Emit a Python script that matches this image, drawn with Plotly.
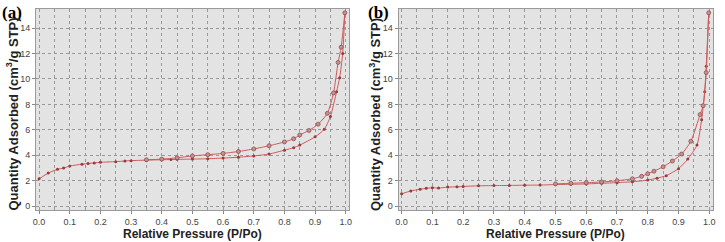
import plotly.graph_objects as go
from plotly.subplots import make_subplots

# Panel (a)
a_ads_x = [0.0, 0.03, 0.06, 0.08, 0.10, 0.14, 0.16, 0.18, 0.20, 0.25, 0.28, 0.30, 0.35, 0.40, 0.43, 0.45,
           0.50, 0.55, 0.60, 0.65, 0.70, 0.75, 0.80, 0.83, 0.85, 0.90, 0.93, 0.95, 0.97, 0.98, 0.99, 0.997]
a_ads_y = [2.15, 2.6, 2.9, 3.0, 3.15, 3.3, 3.35, 3.4, 3.45, 3.5, 3.55, 3.58, 3.62, 3.65, 3.67, 3.68,
           3.7, 3.73, 3.78, 3.85, 3.95, 4.1, 4.4, 4.6, 4.8, 5.45, 6.05, 7.05, 9.0, 10.1, 12.0, 15.2]
a_des_x = [0.997, 0.985, 0.975, 0.96, 0.94, 0.91, 0.88, 0.85, 0.83, 0.80, 0.75, 0.70, 0.65, 0.60,
           0.55, 0.50, 0.45, 0.40, 0.35]
a_des_y = [15.2, 12.5, 11.3, 8.9, 7.3, 6.45, 5.95, 5.6, 5.3, 5.05, 4.75, 4.5, 4.3, 4.15,
           4.05, 3.95, 3.8, 3.7, 3.65]

# Panel (b)
b_ads_x = [0.0, 0.03, 0.06, 0.08, 0.10, 0.12, 0.15, 0.18, 0.20, 0.25, 0.30, 0.35, 0.40, 0.45, 0.50,
           0.55, 0.60, 0.65, 0.70, 0.75, 0.80, 0.83, 0.86, 0.90, 0.93, 0.96, 0.975, 0.985, 0.99, 0.998]
b_ads_y = [0.97, 1.2, 1.33, 1.4, 1.45, 1.42, 1.5, 1.52, 1.55, 1.6, 1.62, 1.63, 1.65, 1.66, 1.7,
           1.72, 1.75, 1.8, 1.85, 1.92, 2.05, 2.2, 2.4, 2.95, 3.7, 4.8, 6.8, 9.0, 11.0, 15.2]
b_des_x = [0.998, 0.99, 0.98, 0.97, 0.94, 0.91, 0.88, 0.85, 0.82, 0.80, 0.78, 0.75, 0.70, 0.65,
           0.60, 0.55, 0.50]
b_des_y = [15.2, 10.5, 7.9, 7.2, 5.1, 4.1, 3.55, 3.1, 2.75, 2.55, 2.35, 2.15, 2.0, 1.9,
           1.85, 1.8, 1.75]

x_ticks = [0.0, 0.1, 0.2, 0.3, 0.4, 0.5, 0.6, 0.7, 0.8, 0.9, 1.0]
x_tick_labels = ["0.0", "0.1", "0.2", "0.3", "0.4", "0.5", "0.6", "0.7", "0.8", "0.9", "1.0"]
y_ticks = [0, 2, 4, 6, 8, 10, 12, 14]
y_tick_labels = ["0", "2", "4", "6", "8", "10", "12", "14"]

panel_labels = ["(a)", "(b)"]
x_title = "Relative Pressure (P/Po)"
y_title = "Quantity Adsorbed (cm<sup>3</sup>/g STP)"

fig = make_subplots(rows=1, cols=2, horizontal_spacing=0.07)

line_col = "#cf5a5a"
ads_marker = dict(size=3, color="#9a3b3b")
des_marker = dict(size=4, color="#c99090", line=dict(color="#8a5050", width=0.8))

for i, (ax, ay, dx, dy) in enumerate([(a_ads_x, a_ads_y, a_des_x, a_des_y),
                                       (b_ads_x, b_ads_y, b_des_x, b_des_y)]):
    col = i + 1
    fig.add_trace(go.Scatter(x=ax, y=ay, mode="lines+markers",
                             line=dict(color=line_col, width=1, shape="spline", smoothing=0.6),
                             marker=ads_marker, showlegend=False), row=1, col=col)
    fig.add_trace(go.Scatter(x=dx, y=dy, mode="lines+markers",
                             line=dict(color=line_col, width=1, shape="spline", smoothing=0.6),
                             marker=des_marker, showlegend=False), row=1, col=col)

axis_common = dict(showline=True, linecolor="#9a9a9a", linewidth=1, mirror=True,
                   gridcolor="#999999", griddash="dot", gridwidth=1, zeroline=False,
                   tickfont=dict(family="Arial, Liberation Sans", size=9, color="#444"),
                   ticks="outside", ticklen=3, tickcolor="#888", ticklabeloverflow="allow")

for col in (1, 2):
    fig.update_xaxes(range=[-0.01, 1.012], tickmode="array", tickvals=x_ticks, ticktext=x_tick_labels,
                     minor=dict(tickvals=[v / 20 for v in range(1, 20, 2)], showgrid=True,
                                gridcolor="#999999", griddash="dot", ticks=""),
                     **axis_common, row=1, col=col)
    fig.update_yaxes(range=[-0.3, 15.5], tickmode="array", tickvals=y_ticks, ticktext=y_tick_labels,
                     **axis_common, row=1, col=col)

fig.update_layout(
    width=725, height=242,
    margin=dict(l=36, r=12, t=9, b=32),
    plot_bgcolor="#e3e3e3", paper_bgcolor="white",
    font=dict(family="Arial, Liberation Sans"),
)
fig.layout.xaxis.domain = [0, 0.463]
fig.layout.xaxis2.domain = [0.5355, 1.0]

anns = []
# panel labels
for xd, lab in zip((0, 0.5355), panel_labels):
    anns.append(dict(text="<b>" + lab + "</b>", x=xd, y=1, xref="paper", yref="paper",
                     xshift=-36 if xd == 0 else -33, yshift=8,
                     xanchor="left", yanchor="top", showarrow=False,
                     font=dict(family="Liberation Serif, Times New Roman", size=17, color="black")))
# x titles
for xc in (0.2315, 0.768):
    anns.append(dict(text="<b>" + x_title + "</b>", x=xc, y=0, xref="paper", yref="paper", yshift=-15,
                     xanchor="center", yanchor="top", showarrow=False,
                     font=dict(family="Arial, Liberation Sans", size=12, color="#222")))
# y titles
for xd in (0, 0.5355):
    anns.append(dict(text="<b>" + y_title + "</b>", x=xd, y=0.475, xref="paper", yref="paper", xshift=-24,
                     xanchor="center", yanchor="middle", textangle=-90, showarrow=False,
                     font=dict(family="Arial, Liberation Sans", size=13, color="#222")))
fig.update_layout(annotations=anns)

fig.write_html("out.html", config={"displayModeBar": False},
               post_script="document.body.style.margin='0';document.body.style.overflow='hidden';")
